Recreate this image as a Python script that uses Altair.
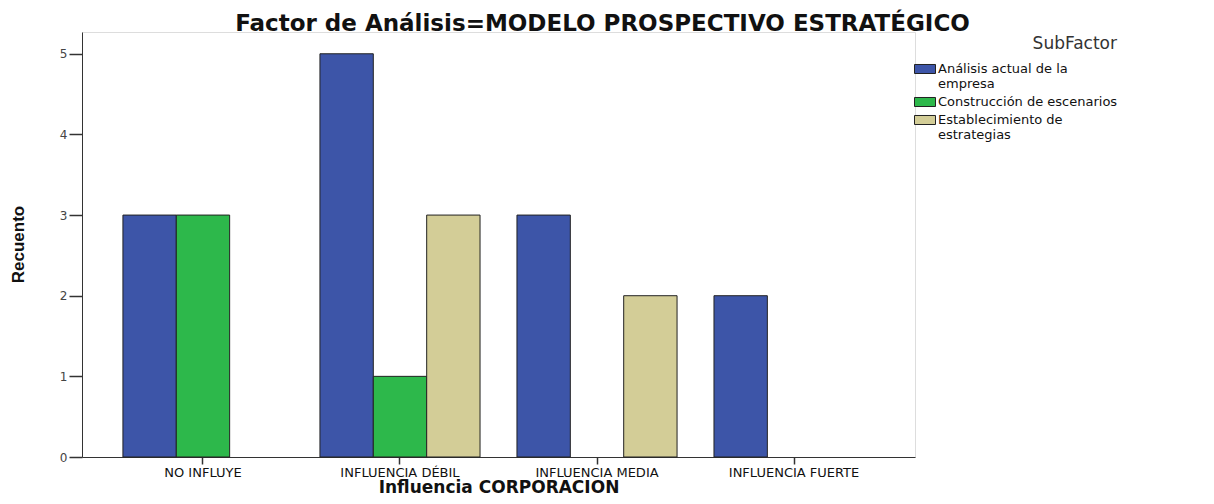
import altair as alt
import pandas as pd

categories = ["NO INFLUYE", "INFLUENCIA DÉBIL", "INFLUENCIA MEDIA", "INFLUENCIA FUERTE"]
subfactors = ["Análisis actual de la empresa", "Construcción de escenarios", "Establecimiento de estrategias"]
analisis = [3, 5, 3, 2]
construccion = [3, 1, 0, 0]
establecimiento = [0, 3, 2, 0]
y_ticks = [0, 1, 2, 3, 4, 5]
colors = ["#3d55a8", "#2db84b", "#d3cd97"]

rows = []
for series, vals in zip(subfactors, [analisis, construccion, establecimiento]):
    for cat, v in zip(categories, vals):
        if v > 0:
            rows.append({"Influencia": cat, "SubFactor": series, "Recuento": v})
df = pd.DataFrame(rows)

label_expr = (
    "datum.label == 'Análisis actual de la empresa' ? ['Análisis actual de la', 'empresa'] : "
    "datum.label == 'Establecimiento de estrategias' ? ['Establecimiento de', 'estrategias'] : datum.label"
)

x_scale = alt.Scale(domain=categories, paddingInner=0, paddingOuter=0.114)
y_scale = alt.Scale(domain=[0, 5.27], nice=False)

x_axis = alt.Axis(
    title="Influencia CORPORACION",
    labelAngle=0,
    labelFont="DejaVu Sans",
    labelFontSize=13,
    labelColor="#111111",
    labelPadding=2,
    ticks=True,
    tickSize=7,
    tickWidth=1.5,
    tickColor="#333333",
    tickOpacity=1,
    domainColor="#333333",
    titleFont="DejaVu Sans",
    titleFontSize=17,
    titleFontWeight="bold",
    titleColor="#111111",
    titleBaseline="bottom",
    titleY=39,
)

y_axis = alt.Axis(
    title="Recuento",
    values=y_ticks,
    grid=False,
    labelFont="DejaVu Sans",
    labelFontSize=12,
    labelColor="#444444",
    labelPadding=2,
    ticks=True,
    tickSize=13,
    tickWidth=1.5,
    tickColor="#333333",
    tickOpacity=1,
    domainColor="#333333",
    titleFont="Liberation Sans",
    titleFontSize=17,
    titleFontWeight="bold",
    titleColor="#111111",
    titleAngle=270,
    titleAlign="center",
    titleBaseline="middle",
    titleX=-64,
    titleY=212,
)

chart = (
    alt.Chart(df)
    .mark_bar(stroke="#222222", strokeWidth=1)
    .encode(
        x=alt.X("Influencia:N", sort=categories, scale=x_scale, axis=x_axis),
        xOffset=alt.XOffset(
            "SubFactor:N",
            scale=alt.Scale(domain=subfactors, paddingInner=0, paddingOuter=0.346),
        ),
        y=alt.Y("Recuento:Q", scale=y_scale, axis=y_axis),
        color=alt.Color(
            "SubFactor:N",
            scale=alt.Scale(domain=subfactors, range=colors),
            legend=alt.Legend(
                title="SubFactor",
                orient="none",
                legendX=832,
                legendY=4,
                titleFont="DejaVu Sans",
                titleFontSize=17,
                titleFontWeight="normal",
                titleColor="#333333",
                titleAnchor="end",
                titlePadding=5,
                labelFont="DejaVu Sans",
                labelFontSize=13,
                labelColor="#111111",
                labelLimit=400,
                labelOffset=2,
                labelExpr=label_expr,
                symbolType="M-1,-0.43L1,-0.43L1,0.43L-1,0.43Z",
                symbolSize=441,
                symbolStrokeColor="#222222",
                symbolStrokeWidth=1,
                symbolOpacity=1,
                rowPadding=0,
            ),
        ),
    )
    .properties(
        width=833,
        height=425,
        title=alt.TitleParams(
            "Factor de Análisis=MODELO PROSPECTIVO ESTRATÉGICO",
            font="DejaVu Sans",
            fontSize=23,
            fontWeight="bold",
            color="#111111",
            anchor="middle",
            frame="group",
            dx=104,
            dy=29,
            baseline="alphabetic",
            offset=7,
        ),
        padding={"left": 74, "top": 24, "right": 291, "bottom": 39},
        autosize=alt.AutoSizeParams(type="none"),
    )
    .configure_view(fill="#f0f0f0", stroke="#666666", strokeWidth=1)
    .configure(background="white")
)

chart.save("out.html", embed_options={"renderer": "svg", "actions": False})
